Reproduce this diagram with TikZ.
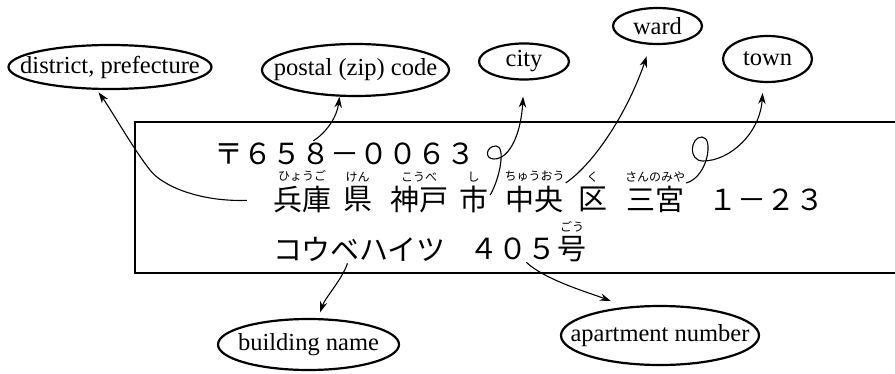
\documentclass[tikz,border=0pt]{standalone}
\usepackage{fontspec}
\setmainfont{Liberation Serif}
\newfontfamily\jpfont{Noto Sans CJK JP}
\usetikzlibrary{positioning, arrows.meta, shapes.geometric}

\begin{document}
\begin{tikzpicture}[
    x=1pt, y=1pt,
    % Styles
    tag/.style={ellipse, draw, line width=2.2pt, inner sep=-40pt, font=\fontsize{24.5}{28}\selectfont},
    addr/.style={font=\jpfont\fontsize{29}{32}\selectfont, inner sep=2pt},
    ruby/.style={font=\jpfont\fontsize{12}{14}\selectfont, inner sep=1pt},
    frame/.style={line width=1.4pt},
    arrow/.style={-{Stealth[length=11pt, width=7.5pt]}, line width=1.1pt},
]
\useasboundingbox (0,0) rectangle (895,373);

% Address card (open on the right)
\draw[frame] (900,251) -| (135,100) -- (900,100);

% Line 1: postal code
\node[addr] (zip) at (344.5,219) {〒６５８－００６３};

% Line 2: prefecture, city, ward, town, block
\node[addr] (hyogo) at (302,173.5) {兵庫};
\node[addr] (ken) at (357.5,173.5) {県};
\node[addr] (kobe) at (419,173.5) {神戸};
\node[addr] (shi) at (473.5,173.5) {市};
\node[addr] (chuo) at (534.5,173.5) {中央};
\node[addr] (ku) at (592.5,173.5) {区};
\node[addr] (sannomiya) at (655,173.5) {三宮};
\node[addr] (chome) at (766.5,173.5) {１－２３};

% Line 3: building and room
\node[addr] (heights) at (359.5,124) {コウベハイツ};
\node[addr] (room) at (513,124) {４０５};
\node[addr] (gou) at (572,124) {号};

% Readings
\node[ruby, above=1pt of hyogo] (rb-hyogo) {ひょうご};
\node[ruby, above=1pt of ken] (rb-ken) {けん};
\node[ruby, above=1pt of kobe] (rb-kobe) {こうべ};
\node[ruby, above=1pt of shi] (rb-shi) {し};
\node[ruby, above=1pt of chuo] (rb-chuo) {ちゅうおう};
\node[ruby, above=1pt of ku] (rb-ku) {く};
\node[ruby, above=1pt of sannomiya] (rb-sannomiya) {さんのみや};
\node[ruby, above=1pt of gou] (rb-gou) {ごう};

% Labels
\node[tag, minimum width=203pt, minimum height=44pt] (pref) at (110,306) {district, prefecture};
\node[tag, minimum width=187pt, minimum height=52pt] (postal) at (355.5,303) {postal (zip) code};
\node[tag, minimum width=90pt, minimum height=36pt] (city) at (524,311.5) {city};
\node[tag, minimum width=89pt, minimum height=36pt] (ward) at (657.5,347) {ward};
\node[tag, minimum width=89pt, minimum height=46pt] (town) at (767.5,314) {town};
\node[tag, minimum width=181pt, minimum height=51pt] (building) at (308.5,28.5) {building name};
\node[tag, minimum width=198pt, minimum height=59pt] (apartment) at (660,37.5) {apartment number};

% Connectors
\draw[arrow, shorten <=24pt, shorten >=3pt] (hyogo.west) .. controls (200,171) and (162,187) .. (150,203)
    .. controls (134,223) and (110,265) .. (pref.240);
\draw[arrow] (zip.157) .. controls (326,240) and (337,256) .. (postal.239);
\draw[arrow, shorten >=16pt] (shi.15) .. controls (500,195) and (506,227) .. (496,227)
    .. controls (486,227) and (484,214) .. (494,214)
    .. controls (510,214) and (521,240) .. (city.south);
\draw[arrow, shorten >=12pt] (rb-chuo.south east) .. controls (595,210) and (628,262) .. (ward.250);
\draw[arrow, shorten >=10pt] (rb-sannomiya.south east) .. controls (708,196) and (714,236) .. (702,236)
    .. controls (690,236) and (688,212) .. (703,212)
    .. controls (730,212) and (760,240) .. (town.260);
\draw[arrow, shorten >=6pt] (heights.-130) .. controls (343,95) and (325,75) .. (building.70);
\draw[arrow, shorten >=16pt] (room.-45) .. controls (545,93) and (590,80) .. (apartment.140);

\end{tikzpicture}
\end{document}
